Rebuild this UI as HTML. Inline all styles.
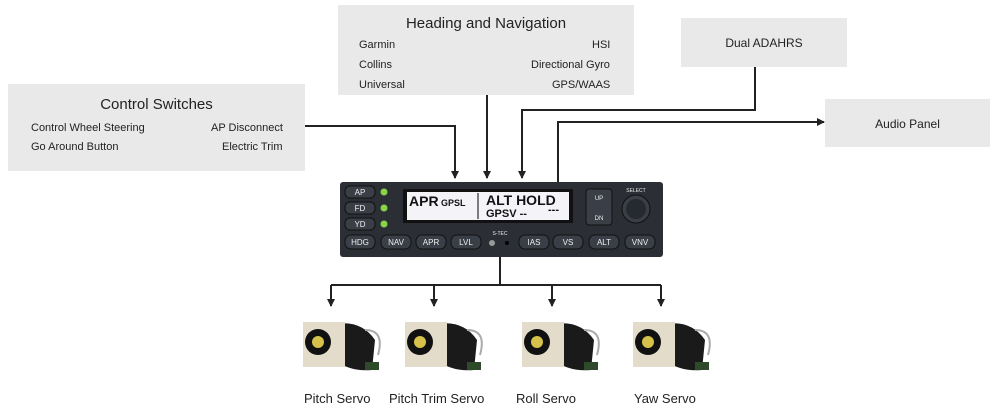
<!DOCTYPE html>
<html><head><style>
body{margin:0;width:1000px;height:419px;background:#fff;position:relative;overflow:hidden;font-family:"Liberation Sans",sans-serif;color:#222}
.box{position:absolute;background:#e9e9e9}
.t{position:absolute;font-size:11px;white-space:nowrap}
.h{position:absolute;font-size:15px;white-space:nowrap;text-align:center}
.lbl{position:absolute;font-size:13px;white-space:nowrap;top:391px}
</style></head><body>
<div class="box" style="left:8px;top:84px;width:297px;height:87px"></div>
<div class="h" style="left:8px;top:96px;width:297px">Control Switches</div>
<div class="t" style="left:31px;top:122px">Control Wheel Steering</div>
<div class="t" style="left:211px;top:122px">AP Disconnect</div>
<div class="t" style="left:31px;top:141px">Go Around Button</div>
<div class="t" style="left:222px;top:141px">Electric Trim</div>

<div class="box" style="left:338px;top:5px;width:296px;height:90px"></div>
<div class="h" style="left:338px;top:15px;width:296px">Heading and Navigation</div>
<div class="t" style="left:359px;top:39px">Garmin</div>
<div class="t" style="left:592px;top:39px">HSI</div>
<div class="t" style="left:359px;top:59px">Collins</div>
<div class="t" style="left:531px;top:59px">Directional Gyro</div>
<div class="t" style="left:359px;top:79px">Universal</div>
<div class="t" style="left:552px;top:79px">GPS/WAAS</div>

<div class="box" style="left:681px;top:18px;width:166px;height:49px"></div>
<div class="t" style="left:681px;top:36px;width:166px;text-align:center;font-size:12px">Dual ADAHRS</div>
<div class="box" style="left:825px;top:99px;width:165px;height:48px"></div>
<div class="t" style="left:825px;top:117px;width:165px;text-align:center;font-size:12px">Audio Panel</div>

<svg width="1000" height="419" style="position:absolute;left:0;top:0">
<defs><marker id="a" markerWidth="8" markerHeight="8" refX="7" refY="4" orient="auto" markerUnits="userSpaceOnUse"><path d="M0,0L8,4L0,8z" fill="#222"/></marker></defs>
<g stroke="#222" stroke-width="2" fill="none">
<path d="M305,126H455V178" marker-end="url(#a)"/>
<path d="M487,95V178" marker-end="url(#a)"/>
<path d="M755,67V110H522V178" marker-end="url(#a)"/>
<path d="M558,184V122H824" marker-end="url(#a)"/>
<path d="M500,257V285"/>
<path d="M331,285H661"/>
<path d="M331,285V306" marker-end="url(#a)"/>
<path d="M434,285V306" marker-end="url(#a)"/>
<path d="M552,285V306" marker-end="url(#a)"/>
<path d="M661,285V306" marker-end="url(#a)"/>
</g>
<!-- unit -->
<rect x="340" y="182" width="323" height="75" rx="3" fill="#2b2e35"/>
<rect x="403" y="189" width="170" height="34" fill="#111"/>
<rect x="407" y="192" width="162" height="28" fill="#f4f4f8"/>
<line x1="478" y1="193" x2="478" y2="219" stroke="#555" stroke-width="1.5"/>
<g font-family="Liberation Sans" font-weight="bold" fill="#111">
<text x="409" y="206" font-size="14">APR</text><text x="441" y="206" font-size="9">GPSL</text>
<text x="486" y="205" font-size="14">ALT HOLD</text><text x="486" y="217" font-size="11">GPSV  --</text><text x="548" y="213" font-size="11">---</text>
</g>
<g fill="#3a3e47" stroke="#111">
<rect x="345" y="186" width="30" height="12" rx="5"/><rect x="345" y="202" width="30" height="12" rx="5"/><rect x="345" y="218" width="30" height="12" rx="5"/>
<rect x="586" y="189" width="26" height="36" rx="3"/>
<rect x="345" y="235" width="30" height="14" rx="6"/><rect x="381" y="235" width="30" height="14" rx="6"/><rect x="416" y="235" width="30" height="14" rx="6"/><rect x="451" y="235" width="30" height="14" rx="6"/>
<rect x="519" y="235" width="30" height="14" rx="6"/><rect x="553" y="235" width="30" height="14" rx="6"/><rect x="589" y="235" width="30" height="14" rx="6"/><rect x="625" y="235" width="30" height="14" rx="6"/>
<circle cx="636" cy="209" r="14"/>
</g>
<circle cx="636" cy="209" r="10" fill="#262930"/>
<g fill="#8bd44a"><circle cx="384" cy="192" r="3.5"/><circle cx="384" cy="208" r="3.5"/><circle cx="384" cy="224" r="3.5"/></g>
<circle cx="492" cy="243" r="3" fill="#999"/><circle cx="507" cy="243" r="2" fill="#000"/>
<g font-family="Liberation Sans" font-size="8" fill="#eee" text-anchor="middle">
<text x="360" y="195">AP</text><text x="360" y="211">FD</text><text x="360" y="227">YD</text>
<text x="599" y="200" font-size="6">UP</text><text x="599" y="220" font-size="6">DN</text><text x="636" y="192" font-size="5">SELECT</text>
<text x="360" y="245">HDG</text><text x="396" y="245">NAV</text><text x="431" y="245">APR</text><text x="466" y="245">LVL</text>
<text x="534" y="245">IAS</text><text x="568" y="245">VS</text><text x="604" y="245">ALT</text><text x="640" y="245">VNV</text>
<text x="500" y="235" font-size="5">S-TEC</text>
</g>
<!-- servos -->
<g id="s">
<path d="M330,325 Q360,318 375,340 L372,370 Q350,372 335,360z" fill="#1a1a1a"/>
<path d="M365,330 Q385,330 378,355" stroke="#aaa" stroke-width="2" fill="none"/>
<rect x="365" y="362" width="14" height="8" fill="#2e4a2a"/>
<rect x="303" y="322" width="42" height="45" fill="#e3dccb"/>
<circle cx="318" cy="342" r="13" fill="#111"/><circle cx="318" cy="342" r="6" fill="#d6c24a"/>
</g>
<use href="#s" x="102"/><use href="#s" x="219"/><use href="#s" x="330"/>
</svg>
<div class="lbl" style="left:304px">Pitch Servo</div>
<div class="lbl" style="left:389px">Pitch Trim Servo</div>
<div class="lbl" style="left:516px">Roll Servo</div>
<div class="lbl" style="left:634px">Yaw Servo</div>
</body></html>
